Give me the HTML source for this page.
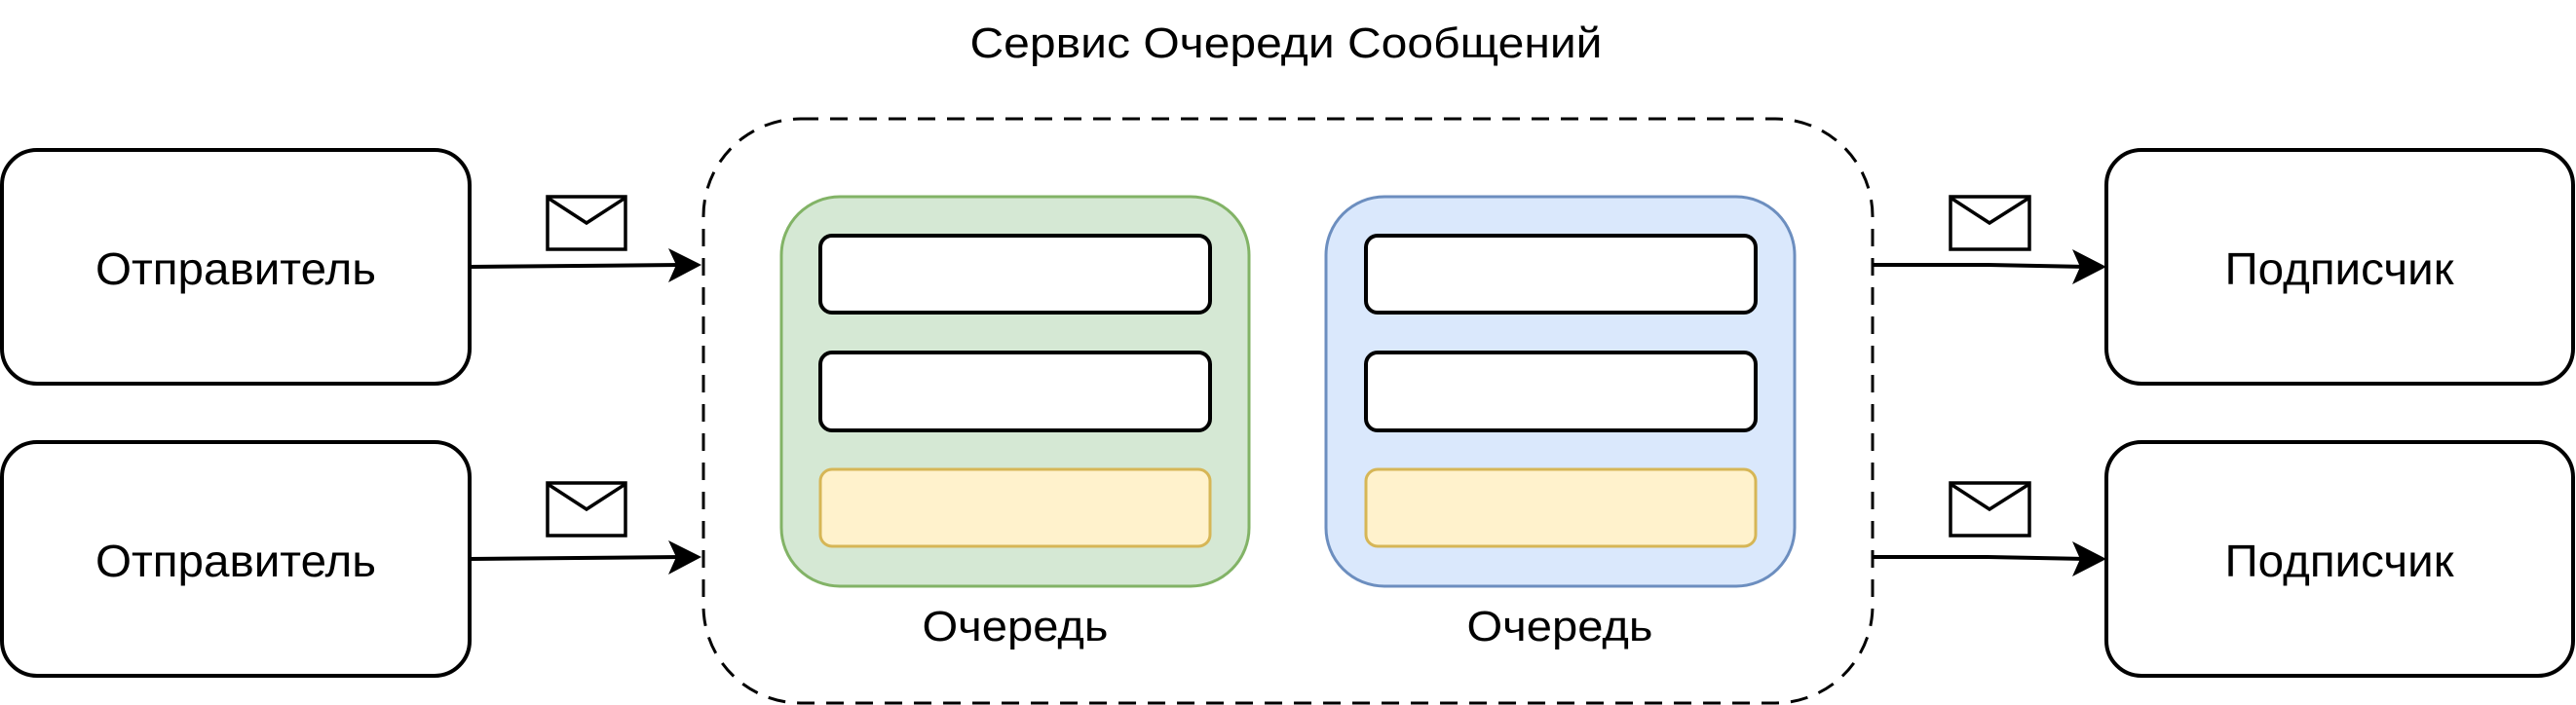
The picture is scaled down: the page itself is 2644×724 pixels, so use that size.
<!DOCTYPE html>
<html><head><meta charset="utf-8"><style>html,body{margin:0;padding:0;background:#fff}svg{display:block}text{font-family:"Liberation Sans",sans-serif;fill:#000}</style></head>
<body>
<svg width="2644" height="724" viewBox="0 0 2644 724" xmlns="http://www.w3.org/2000/svg">
<text x="1320" y="59" font-size="44" text-anchor="middle" textLength="649" lengthAdjust="spacingAndGlyphs">Сервис Очереди Сообщений</text>
<rect x="722" y="122" width="1200" height="600" rx="100" fill="none" stroke="#000" stroke-width="3" stroke-dasharray="18 12"/>
<g fill="none" stroke="#000" stroke-width="4">
<rect x="2" y="154" width="480" height="240" rx="36" fill="#fff"/>
<rect x="2" y="454" width="480" height="240" rx="36" fill="#fff"/>
<rect x="2162" y="154" width="479" height="240" rx="36" fill="#fff"/>
<rect x="2162" y="454" width="479" height="240" rx="36" fill="#fff"/>
</g>
<text x="242" y="292" font-size="46" text-anchor="middle" textLength="288" lengthAdjust="spacingAndGlyphs">Отправитель</text>
<text x="242" y="592" font-size="46" text-anchor="middle" textLength="288" lengthAdjust="spacingAndGlyphs">Отправитель</text>
<text x="2401" y="292" font-size="46" text-anchor="middle" textLength="235" lengthAdjust="spacingAndGlyphs">Подписчик</text>
<text x="2401" y="592" font-size="46" text-anchor="middle" textLength="235" lengthAdjust="spacingAndGlyphs">Подписчик</text>
<rect x="802" y="202" width="480" height="400" rx="60" fill="#d5e8d4" stroke="#82b366" stroke-width="3"/>
<rect x="1361" y="202" width="481" height="400" rx="60" fill="#dae8fc" stroke="#6c8ebf" stroke-width="3"/>
<g stroke-width="4">
<rect x="842" y="242" width="400" height="79" rx="12" fill="#fff" stroke="#000"/>
<rect x="842" y="362" width="400" height="80" rx="12" fill="#fff" stroke="#000"/>
<rect x="842" y="482" width="400" height="79" rx="12" fill="#fff2cc" stroke="#d6b656" stroke-width="3"/>
<rect x="1402" y="242" width="400" height="79" rx="12" fill="#fff" stroke="#000"/>
<rect x="1402" y="362" width="400" height="80" rx="12" fill="#fff" stroke="#000"/>
<rect x="1402" y="482" width="400" height="79" rx="12" fill="#fff2cc" stroke="#d6b656" stroke-width="3"/>
</g>
<text x="1042" y="658" font-size="44" text-anchor="middle" textLength="191" lengthAdjust="spacingAndGlyphs">Очередь</text>
<text x="1601" y="658" font-size="44" text-anchor="middle" textLength="191" lengthAdjust="spacingAndGlyphs">Очередь</text>
<g stroke="#000" stroke-width="4" fill="none">
<path d="M482 274 L700 272"/>
<path d="M482 574 L700 572"/>
<path d="M1922 272 L2040 272 L2142 274"/>
<path d="M1922 572 L2040 572 L2142 574"/>
</g>
<g fill="#000">
<path d="M720 272 L686 255 L694 272 L686 290 Z"/>
<path d="M720 572 L686 555 L694 572 L686 590 Z"/>
<path d="M2162 274 L2127 256 L2135 274 L2127 292 Z"/>
<path d="M2162 574 L2127 556 L2135 574 L2127 592 Z"/>
</g>
<g fill="#fff" stroke="#000" stroke-width="3.5">
<rect x="562" y="202" width="80" height="54"/><path d="M562 203 L602 229 L642 203" fill="none"/>
<rect x="562" y="496" width="80" height="54"/><path d="M562 497 L602 523 L642 497" fill="none"/>
<rect x="2002" y="202" width="81" height="54"/><path d="M2002 203 L2042 229 L2083 203" fill="none"/>
<rect x="2002" y="496" width="81" height="54"/><path d="M2002 497 L2042 523 L2083 497" fill="none"/>
</g>
</svg>
</body></html>
